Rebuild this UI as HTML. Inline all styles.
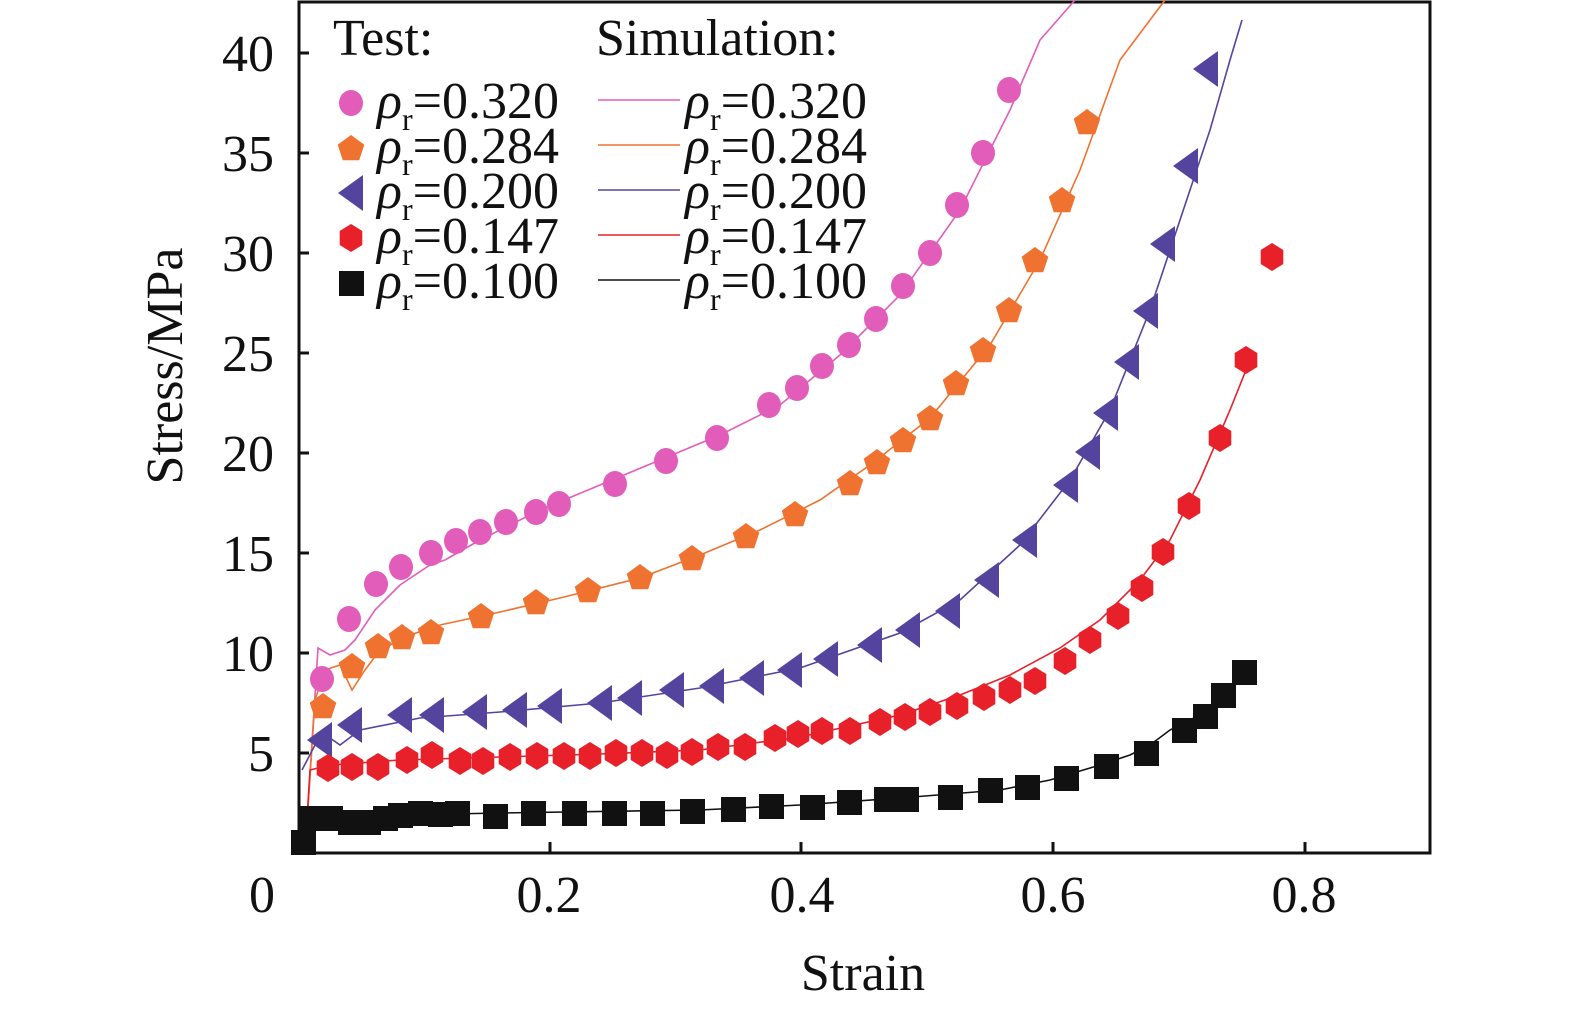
<!DOCTYPE html>
<html><head><meta charset="utf-8"><style>
html,body{margin:0;padding:0;background:#fff}
svg{display:block}
text{font-family:"Liberation Serif",serif;fill:#111}
</style></head><body>
<svg id="s" width="1575" height="1011" viewBox="0 0 1575 1011" xmlns="http://www.w3.org/2000/svg">
<rect x="299" y="2" width="1131" height="851" fill="none" stroke="#111" stroke-width="3"/>
<g stroke="#111" stroke-width="3">
<line x1="299" y1="753" x2="309" y2="753"/><line x1="299" y1="653" x2="309" y2="653"/><line x1="299" y1="553" x2="309" y2="553"/><line x1="299" y1="453" x2="309" y2="453"/><line x1="299" y1="353" x2="309" y2="353"/><line x1="299" y1="253" x2="309" y2="253"/><line x1="299" y1="153" x2="309" y2="153"/><line x1="299" y1="53" x2="309" y2="53"/>
<line x1="550" y1="853" x2="550" y2="842"/><line x1="801" y1="853" x2="801" y2="842"/><line x1="1053" y1="853" x2="1053" y2="842"/><line x1="1305" y1="853" x2="1305" y2="842"/>
</g>
<g font-size="52" text-anchor="end">
<text x="274" y="771">5</text><text x="274" y="671">10</text><text x="274" y="571">15</text><text x="274" y="471">20</text><text x="274" y="371">25</text><text x="274" y="271">30</text><text x="274" y="171">35</text><text x="274" y="71">40</text>
</g>
<g font-size="52" text-anchor="middle">
<text x="262" y="912">0</text><text x="549" y="912">0.2</text><text x="802" y="912">0.4</text><text x="1053" y="912">0.6</text><text x="1304" y="912">0.8</text>
<text x="863" y="990">Strain</text>
<text transform="translate(182,366) rotate(-90)">Stress/MPa</text>
</g>
<g id="lines" fill="none" stroke-width="1.6"></g>
<g id="marks"></g>
<g font-size="52">
<text x="333" y="55">Test:</text><text x="596" y="55">Simulation:</text>
</g>
<g id="leg"></g>
</svg>
<script>
const NS="http://www.w3.org/2000/svg";
const C={p:"#e25db9",o:"#ef7230",b:"#55449e",r:"#e8202a",k:"#111"};
const L={
p:[[305,853],[318,648],[330,655],[345,650],[355,640],[375,610],[400,585],[430,565],[445,560],[480,540],[540,510],[600,485],[660,460],[720,435],[780,405],[840,355],[900,295],[960,210],[1010,110],[1040,40],[1075,0]],
o:[[305,853],[315,700],[325,670],[340,665],[352,690],[365,670],[380,650],[410,635],[440,625],[500,612],[560,598],[640,578],[700,555],[760,530],[820,500],[870,465],[930,418],[990,345],[1040,260],[1080,170],[1120,60],[1150,20],[1165,0]],
b:[[302,770],[315,745],[330,738],[340,745],[360,730],[420,718],[500,712],[600,703],[700,688],[800,668],[900,633],[960,600],[1020,545],[1070,480],[1110,410],[1150,310],[1180,220],[1210,130],[1230,60],[1242,20]],
r:[[305,853],[310,770],[330,765],[400,760],[500,757],[600,754],[700,750],[800,737],[900,715],[960,695],[1010,675],[1060,648],[1100,620],[1140,580],[1170,540],[1200,480],[1230,410],[1250,360]],
k:[[305,853],[310,818],[400,815],[500,813],[700,810],[800,805],[900,798],[1000,790],[1050,780],[1100,765],[1130,755],[1150,745],[1170,730],[1200,715],[1230,690],[1245,672]]};
const M={
p:[[322,679],[349,619],[376,584],[401,567],[431,553],[456,541],[480,532],[506,522],[536,512],[559,504],[615,484],[666,461],[717,438],[769,405],[797,388],[822,366],[849,345],[876,319],[903,286],[930,253],[957,205],[983,153],[1009,90]],
o:[[323,706],[352,666],[378,646],[402,637],[431,632],[481,616],[536,602],[588,590],[640,577],[692,558],[746,536],[795,514],[850,483],[877,462],[903,440],[930,418],[956,383],[983,350],[1009,310],[1035,260],[1062,200],[1087,122]],
b:[[320,740],[350,725],[400,715],[432,715],[475,712],[515,710],[550,706],[600,703],[630,698],[672,690],[712,686],[752,678],[790,670],[826,659],[870,645],[908,630],[948,611],[987,580],[1025,540],[1066,485],[1088,452],[1106,413],[1127,362],[1146,311],[1163,244],[1186,166],[1206,69]],
r:[[328,768],[352,767],[378,767],[407,760],[432,755],[460,761],[483,761],[510,757],[537,756],[564,756],[590,756],[616,753],[642,753],[667,755],[692,752],[718,747],[745,747],[775,738],[798,734],[822,731],[850,731],[880,722],[905,717],[930,712],[957,706],[984,697],[1010,690],[1035,681],[1065,661],[1090,640],[1118,616],[1142,588],[1163,552],[1189,506],[1220,438],[1246,360],[1272,257]],
k:[[303,842],[310,818],[330,818],[350,822],[368,822],[385,818],[400,815],[420,813],[440,814],[457,813],[495,816],[533,813],[574,813],[614,813],[652,813],[692,811],[733,809],[771,806],[812,807],[849,802],[886,799],[906,799],[950,797],[990,790],[1027,787],[1066,778],[1106,766],[1146,753],[1184,730],[1205,716],[1223,695],[1244,672]]};
function el(t,a,p){const e=document.createElementNS(NS,t);for(const k in a)e.setAttribute(k,a[k]);p.appendChild(e);return e;}
const lg=document.getElementById("lines"),mg=document.getElementById("marks");
function marker(k,x,y,p){
 const c=C[k];
 if(k=="p") el("ellipse",{cx:x,cy:y,rx:12,ry:13,fill:c},p);
 else if(k=="o"){let pts=[];for(let i=0;i<5;i++){const a=-Math.PI/2+i*2*Math.PI/5;pts.push((x+14*Math.cos(a)).toFixed(1)+","+(y+1+14*Math.sin(a)).toFixed(1));}el("polygon",{points:pts.join(" "),fill:c},p);}
 else if(k=="b") el("polygon",{points:`${x-13},${y} ${x+12},${y-18} ${x+12},${y+18}`,fill:c},p);
 else if(k=="r"){let pts=[];for(let i=0;i<6;i++){const a=-Math.PI/2+i*Math.PI/3;pts.push((x+13*Math.cos(a)).toFixed(1)+","+(y+14*Math.sin(a)).toFixed(1));}el("polygon",{points:pts.join(" "),fill:c},p);}
 else el("rect",{x:x-12,y:y-12,width:25,height:25,fill:c},p);
}
for(const k of ["p","o","b","r","k"]){
 el("polyline",{points:L[k].map(q=>q.join(",")).join(" "),stroke:C[k]},lg);
 for(const [x,y] of M[k]) marker(k,x,y,mg);
}
const leg=document.getElementById("leg");
const labs=[["p","0.320"],["o","0.284"],["b","0.200"],["r","0.147"],["k","0.100"]];
labs.forEach(([k,v],i)=>{
 const y=118+i*45;
 marker(k,351,y-15,leg);
 el("line",{x1:598,y1:y-18,x2:680,y2:y-18,stroke:C[k],"stroke-width":1.6},leg);
 for(const x0 of [377,685]){
  const t=el("text",{x:x0,y:y,"font-size":52},leg);
  t.innerHTML='<tspan font-style="italic">ρ</tspan><tspan font-size="32" dy="12">r</tspan><tspan dy="-12">=0.'+v.slice(2)+'</tspan>';
 }
});
</script>
</body></html>
